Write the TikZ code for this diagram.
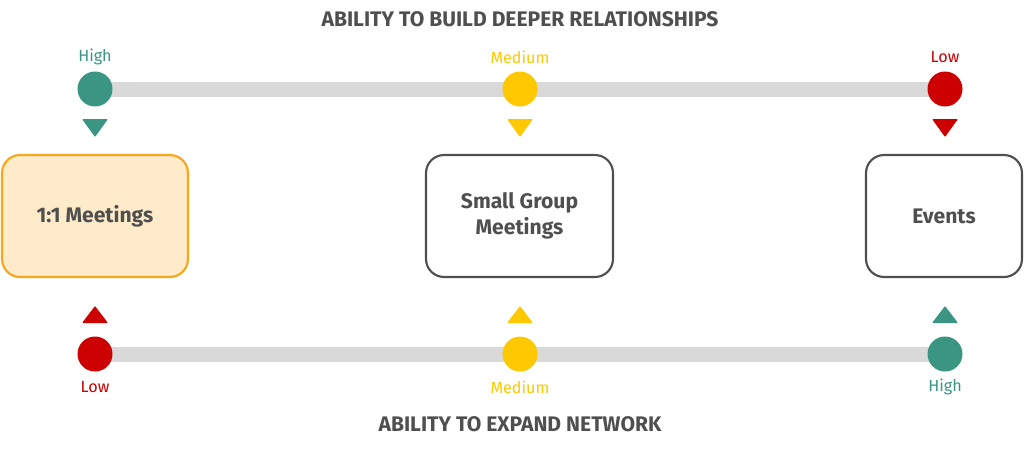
\documentclass[tikz,border=0pt]{standalone}
\usepackage{fontspec}
\setmainfont{Fira Sans}
\usetikzlibrary{positioning}

\definecolor{cteal}{HTML}{3A9582}
\definecolor{cyellow}{HTML}{FFC800}
\definecolor{cred}{HTML}{CC0000}
\definecolor{cbar}{HTML}{D9D9D9}
\definecolor{ctext}{HTML}{4F4F4F}
\definecolor{corange}{HTML}{F9A61A}
\definecolor{cfill}{HTML}{FFEBC9}

\begin{document}
\begin{tikzpicture}[x=0.02cm,y=-0.02cm,
  dot/.style={circle,inner sep=0pt,minimum size=0.7cm},
  lbl/.style={font=\fontsize{9.2}{10}\selectfont,inner sep=0pt},
  ttl/.style={font=\bfseries\fontsize{12}{14}\selectfont,text=ctext,inner sep=0pt},
  box/.style={draw=ctext,line width=1.2pt,rounded corners=0.36cm,minimum height=2.44cm,
    font=\bfseries\fontsize{12}{15}\selectfont,text=ctext,align=center},
  bar/.style={cbar,line width=0.3cm}]
\useasboundingbox (0,0) rectangle (1024,450);

% titles
\node[ttl] (top) at (520,19) {ABILITY TO BUILD DEEPER RELATIONSHIPS};
\node[ttl] (bottom) at (520,424) {ABILITY TO EXPAND NETWORK};

% top scale
\coordinate (ta) at (95,89);
\coordinate (tc) at (945,89);
\draw[bar] (ta) -- (tc);
\node[dot,fill=cteal] (th) at (95,89) {};
\node[dot,fill=cyellow] (tm) at (520,89) {};
\node[dot,fill=cred] (tl) at (945,89) {};
\node[lbl,text=cteal] at (95,57) {High};
\node[lbl,text=cyellow] at (520,57) {Medium};
\node[lbl,text=cred] at (945,57) {Low};
\fill[cteal,rounded corners=0.5pt] (82,119) -- (108,119) -- (95,137) -- cycle;
\fill[cyellow,rounded corners=0.5pt] (507,119) -- (533,119) -- (520,137) -- cycle;
\fill[cred,rounded corners=0.5pt] (932,119) -- (958,119) -- (945,137) -- cycle;

% boxes
\node[box,draw=corange,fill=cfill,minimum width=3.72cm] (one) at (95,216) {1:1 Meetings};
\node[box,minimum width=3.74cm] (small) at (519.5,216) {Small Group\\Meetings};
\node[box,minimum width=3.12cm] (events) at (944,216) {Events};

% bottom scale
\coordinate (ba) at (95,354);
\coordinate (bc) at (945,354);
\draw[bar] (ba) -- (bc);
\node[dot,fill=cred] (bl) at (95,354) {};
\node[dot,fill=cyellow] (bm) at (520,354) {};
\node[dot,fill=cteal] (bh) at (945,354) {};
\node[lbl,text=cred] at (95,387) {Low};
\node[lbl,text=cyellow] at (520,387) {Medium};
\node[lbl,text=cteal] at (945,387) {High};
\fill[cred,rounded corners=0.5pt] (82,323) -- (108,323) -- (95,306) -- cycle;
\fill[cyellow,rounded corners=0.5pt] (507,323) -- (533,323) -- (520,306) -- cycle;
\fill[cteal,rounded corners=0.5pt] (932,323) -- (958,323) -- (945,306) -- cycle;
\end{tikzpicture}
\end{document}
